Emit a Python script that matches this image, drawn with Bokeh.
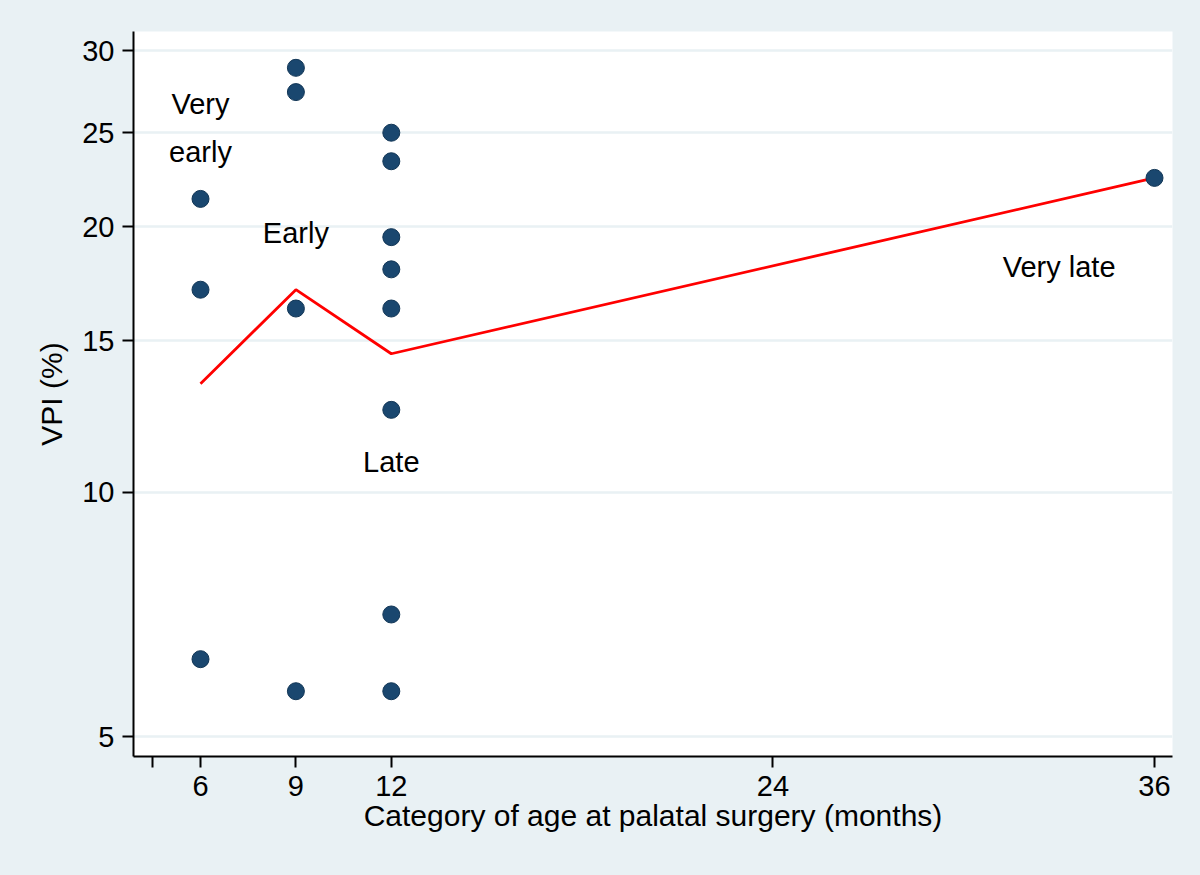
import numpy as np
from jinja2 import Template
from bokeh.plotting import figure
from bokeh.models import FixedTicker, CustomJSTickFormatter, Range1d, ColumnDataSource
from bokeh.core.properties import value
from bokeh.embed import file_html
from bokeh.resources import INLINE

# ---- data (VPI in %, age category in months) ----
pt_age = [6, 6, 6, 9, 9, 9, 9, 12, 12, 12, 12, 12, 12, 12, 12, 36]
pt_vpi = [21.4, 17.1, 6.25, 28.9, 27.4, 16.3, 5.7, 25.0, 23.4, 19.5, 18.0, 16.3, 12.5, 7.1, 5.7, 22.5]

line_age = [6, 9, 12, 36]
line_vpi = [13.4, 17.1, 14.5, 22.5]

label_age = [6, 6, 9, 12, 33]
label_vpi = [26.7, 23.9, 19.7, 10.85, 18.1]
label_text = ["Very", "early", "Early", "Late", "Very late"]

x_ticks = [4.5, 6, 9, 12, 24, 36]
y_tick_vals = [5, 10, 15, 20, 25, 30]


def logit(p):
    p = np.asarray(p, dtype=float) / 100.0
    return np.log(p / (1 - p))


BG = "#E9F1F4"
NAVY = "#1A476F"

lo, hi = float(logit(5)), float(logit(30))
ppu = 686.0 / (hi - lo)

p = figure(width=1200, height=875, output_backend="svg", toolbar_location=None,
           x_range=Range1d(6 - 67 / 31.8, 36 + 18 / 31.8),
           y_range=Range1d(lo - 20 / ppu, hi + 19 / ppu),
           min_border_left=133, min_border_right=28, min_border_top=31, min_border_bottom=119)

p.background_fill_color = "white"
p.border_fill_color = BG
p.outline_line_color = None

p.xgrid.visible = False
p.ygrid.grid_line_color = BG
p.ygrid.grid_line_width = 2.5

yticks = [float(v) for v in logit(y_tick_vals)]
p.yaxis.ticker = FixedTicker(ticks=yticks, minor_ticks=[])
p.yaxis.formatter = CustomJSTickFormatter(code="return String(Math.round(100/(1+Math.exp(-tick))));")
p.xaxis.ticker = FixedTicker(ticks=x_ticks, minor_ticks=[])
p.xaxis.formatter = CustomJSTickFormatter(code="return tick == 4.5 ? '' : String(tick);")

for ax in (p.xaxis[0], p.yaxis[0]):
    ax.axis_line_color = "black"
    ax.axis_line_width = 2
    ax.major_tick_line_color = "black"
    ax.major_tick_line_width = 2
    ax.major_tick_out = 11
    ax.major_tick_in = 0
    ax.minor_tick_line_color = None
    ax.major_label_text_font = "Liberation Sans"
    ax.major_label_text_font_size = "29px"
    ax.major_label_text_color = "black"
    ax.major_label_standoff = 8
    ax.axis_label_text_font = "Liberation Sans"
    ax.axis_label_text_font_size = "30px"
    ax.axis_label_text_font_style = "normal"
    ax.axis_label_text_color = "black"

p.xaxis.axis_label = "Category of age at palatal surgery (months)"
p.yaxis.axis_label = "VPI (%)"
p.xaxis.axis_label_standoff = 0
p.yaxis.axis_label_standoff = 11
p.yaxis.major_label_orientation = "horizontal"

line_src = ColumnDataSource(dict(x=line_age, y=logit(line_vpi)))
p.line("x", "y", source=line_src, line_color="#FF0000", line_width=2.8)

pt_src = ColumnDataSource(dict(x=pt_age, y=logit(pt_vpi)))
p.scatter("x", "y", source=pt_src, size=17, marker="circle",
          fill_color=NAVY, line_color="#123656", line_width=1)

lab_src = ColumnDataSource(dict(x=label_age, y=logit(label_vpi), t=label_text))
p.text("x", "y", text="t", source=lab_src, text_align="center", text_baseline="middle",
       text_font=value("Liberation Sans"), text_font_size="29px", text_color="black")

template = Template("""{% extends base %}
{% block preamble %}<style>html, body { background: #E9F1F4; margin: 0; padding: 0; overflow: hidden; }</style>{% endblock %}""")

open("out.html", "w").write(file_html(p, INLINE, template=template))
